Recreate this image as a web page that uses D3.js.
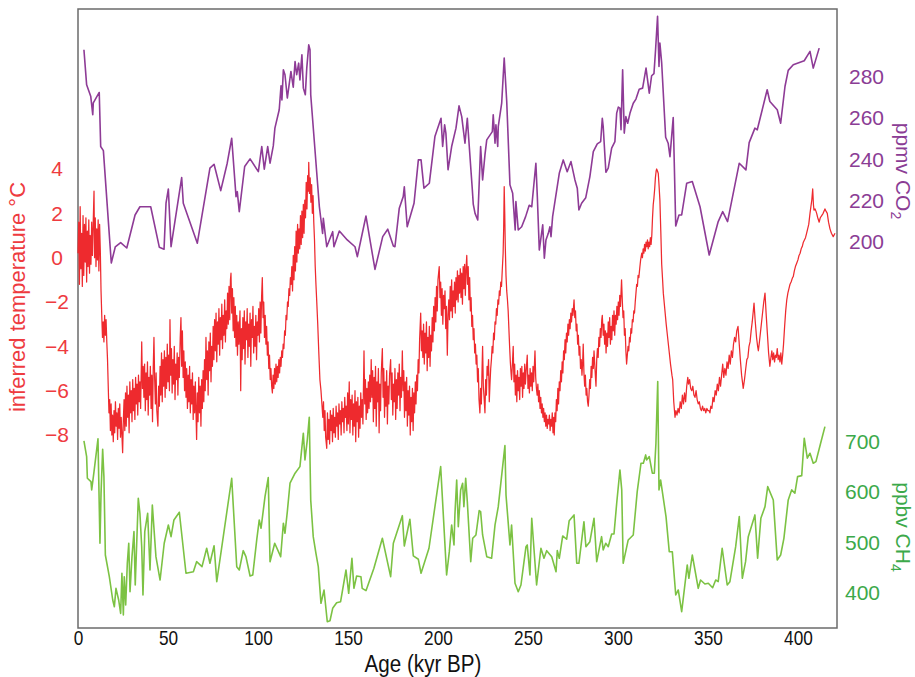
<!DOCTYPE html>
<html>
<head>
<meta charset="utf-8">
<script src="https://cdn.jsdelivr.net/npm/d3@7"></script>
<style>
body { margin: 0; background: #fff; }
svg { display: block; font-family: "Liberation Sans", Arial, sans-serif; }
</style>
</head>
<body>
<svg width="915" height="677"></svg>
<script>
// tick labels
var ageTicks = [0, 50, 100, 150, 200, 250, 300, 350, 400];
var tempTicks = [-8, -6, -4, -2, 0, 2, 4];
var co2Ticks = [200, 220, 240, 260, 280];
var ch4Ticks = [400, 500, 600, 700];

// [age kyr BP, inferred temperature °C]
var temperature = [
[0,0.2],[0.4,1.6],[0.8,-1.2],[1.2,2.3],[1.6,-0.5],[2,1.1],[2.4,-1.3],[2.8,1.9],[3.2,-0.8],[3.6,1.5],[4,-0.2],[4.4,1.8],[4.8,-1.1],[5.2,1.2],[5.6,-0.4],[6,1.7],[6.4,-0.7],[6.8,1],[7.2,-0.3],[7.6,1.6],[8,0.1],[8.4,1.4],[8.9,3],[9.2,0],[9.6,1.8],[10,-0.4],[10.4,1.3],[10.8,-0.1],[11.2,1.7],[11.6,-0.6],[12,1.5],[12.4,0.3],
[12.8,-1.5],[13.2,-2.6],[13.6,-3.6],[14,-2.9],[14.4,-3.8],[14.8,-2.6],[15.2,-3.5],[15.6,-2.8],[16,-3.8],[16.4,-4.6],[16.8,-5.8],[17.2,-7],[17.6,-6.4],[18,-7.8],
[18.4,-6.6],[18.8,-8],[19.2,-7.1],[19.6,-8.3],[20,-6.9],[20.4,-7.9],[20.8,-6.5],[21.2,-7.6],[21.6,-7],[22,-8.2],[22.4,-6.8],[22.8,-7.7],[23.2,-6.6],[23.6,-8.1],[24,-7.2],[24.4,-8],[24.8,-8.8],[25.2,-7.3],[25.6,-6.4],[26,-7.8],
[26.4,-6.1],[26.8,-7.6],[27.2,-5.8],[27.6,-7.2],[28,-6.2],[28.4,-7.9],[28.8,-5.6],[29.2,-7],[29.6,-6],[30,-7.4],[30.4,-5.5],[30.8,-6.9],[31.2,-5.9],[31.6,-7.3],[32,-5.4],[32.4,-6.6],[32.8,-5.7],[33.2,-7.1],[33.6,-5.3],[34,-6.5],
[34.4,-5.6],[34.8,-6.8],[35.4,-3.8],[35.8,-5.9],[36.2,-4.9],[36.6,-6.3],[37,-4.8],[37.4,-6.9],[37.8,-5.2],[38.2,-6.4],[38.6,-4.7],[39,-7.1],[39.4,-5.4],[39.8,-6.2],[40.2,-4.9],[40.6,-6.8],[41,-5.3],[41.4,-7.4],[41.8,-5],[42.2,-3.6],[42.6,-5.5],[43,-6.6],
[43.4,-5.2],[43.8,-6.9],[44.4,-7.6],[44.8,-5.8],[45.2,-6.7],[45.6,-4.9],[46,-6.2],[46.4,-4.3],[46.8,-6.5],[47.2,-4.6],[47.6,-5.8],[48,-4.2],[48.4,-6.3],[48.8,-4.5],[49.2,-5.9],[49.6,-3.9],[50,-5.6],[50.4,-4.4],[50.8,-6],[51.1,-2.8],[51.5,-5.3],[51.9,-4.1],[52.3,-6.1],[52.7,-4.6],[53.1,-5.7],[53.5,-4],[53.9,-6.4],[54.3,-4.8],[54.7,-5.5],[55.1,-4.3],[55.5,-6.2],[55.9,-4.5],[56.3,-5.4],[56.8,-3.6],[57.2,-2.7],[57.6,-4.9],[58,-3.3],[58.4,-5.4],[58.8,-4.2],[59.2,-6],
[59.6,-4.7],[60,-6.3],[60.4,-5],[60.8,-6.8],[61.2,-5.3],[61.6,-6.5],[62,-4.9],[62.4,-7],[62.8,-5.5],[63.2,-6.6],[63.6,-5.2],[64,-7.3],[64.4,-5.8],[64.8,-7],[65.2,-5.6],[65.9,-8.2],[66.3,-6.1],[66.7,-7.4],[67.1,-5.4],[67.5,-7],[67.9,-5.8],[68.3,-7.6],[68.7,-5.5],[69.1,-6.8],[69.5,-5.1],[69.9,-6.5],
[70.3,-4.6],[70.7,-6],[71.1,-3.6],[71.5,-5.5],[71.9,-4.2],[72.3,-6.2],[72.7,-3.8],[73.1,-5.1],[73.5,-3.4],[73.9,-5.6],[74.3,-4],[74.7,-4.9],
[75.1,-3.1],[75.5,-4.6],[75.9,-2.8],[76.3,-4.2],[76.7,-2.5],[77.1,-4.7],[77.5,-2.9],[77.9,-3.9],[78.3,-2.3],[78.7,-4.4],[79.1,-2.7],[79.5,-3.7],[79.9,-2.1],[80.3,-4.1],[80.7,-2.6],[81.1,-3.5],[81.5,-1.9],[81.9,-3.8],[82.3,-2.4],[82.7,-3.2],[83.1,-1.6],[83.5,-3],[83.9,-1.3],[84.3,-2.8],[84.7,-1],[85,-0.7],[85.4,-2.5],[85.8,-1.4],[86.2,-3.3],[86.6,-1.8],[87,-3.6],[87.4,-2.2],[87.8,-4],
[88.2,-2.6],[88.6,-4.4],[89,-2.9],[89.4,-3.9],[90,-2.4],[90.4,-6],[90.8,-3.2],[91.2,-4.6],[91.6,-2.7],[92,-4.1],[92.4,-2.4],[92.8,-4.8],[93.2,-2.9],[93.6,-3.7],[94,-2.3],[94.4,-4.5],[94.8,-3],[95.2,-4],[95.6,-2.5],[96,-4.9],[96.4,-2.8],[96.8,-3.6],[97.2,-2.2],[97.6,-4.3],[98,-3.1],[98.4,-4],[98.8,-2.6],[99.2,-4.6],[99.6,-2.9],[100,-3.5],
[100.4,-2.3],[100.8,-3.8],[101.2,-2],[101.6,-3.4],[102,-1.8],[102.4,-0.9],[102.8,-2.7],[103.2,-2],[103.6,-3.6],[104,-2.6],[104.4,-3.9],[104.8,-3.1],[105.2,-4.4],[105.6,-3.8],[106,-5],[106.4,-4.4],[106.8,-5.5],[107.2,-5],[107.6,-5.8],[108,-6.1],
[108.4,-5.3],[108.8,-5.9],[109.2,-5],[109.6,-5.7],[110,-4.8],[110.4,-5.6],[110.8,-4.9],[111.2,-5.4],[111.6,-4.6],[112,-5.2],[112.4,-4.5],[112.8,-4.9],[113.2,-4.2],
[113.6,-4.5],[114,-3.9],[114.4,-4.1],[114.8,-3.3],[115.2,-3.5],[115.6,-2.6],[116,-2.8],[116.4,-2],[116.8,-2.2],[117.2,-1.4],[117.6,-1.7],[118,-0.9],[118.4,-1.2],
[118.8,-0.4],[119.2,-1.5],[119.6,0.1],[120,-1],[120.4,0.5],[120.8,-0.6],[121.2,1.2],[121.6,-0.2],[122,1.5],[122.4,0.2],[122.8,1.3],[123.2,0.4],[123.6,1.9],[124,0.6],[124.4,2.1],[124.8,0.9],[125.2,2.4],[125.6,1.1],[126,2.6],[126.4,1.8],[126.8,3.4],[127.2,2.2],[127.6,3.7],[128,3],[128.2,4.3],[128.6,2.9],[129,3.6],[129.4,2.5],[129.8,3.3],[130.2,2],[130.6,2.8],[131,1.6],[131.4,0.8],[131.8,-0.4],[132.2,-1.2],[132.6,-1.9],
[133.2,-3],[133.8,-4.3],[134.4,-5.5],[135,-6],[135.6,-6.7],
[136,-7.2],[136.4,-6.5],[136.8,-7.8],[137.2,-6.9],[137.6,-8.1],[138.2,-8.6],[138.6,-7],[139,-8.2],[139.4,-7.3],[139.8,-8.4],[140.2,-6.9],[140.6,-7.8],[141,-7.1],[141.4,-8.3],[141.8,-6.8],[142.2,-7.9],[142.6,-7.2],[143,-8.1],[143.4,-6.7],[143.8,-7.6],[144.2,-7],[144.6,-8.2],[145,-6.6],[145.4,-7.5],[145.8,-6.9],[146.2,-8],[146.6,-6.5],[147,-7.4],[147.4,-6.8],[147.8,-7.9],[148.2,-6.3],[148.6,-7.2],[149,-6.7],
[149.4,-7.8],[149.8,-6.1],[150.2,-7.5],[150.7,-5.6],[151.1,-7.9],[151.5,-6.4],[151.9,-7.3],[152.3,-6.2],[152.7,-8],[153.1,-6.6],[153.5,-7.6],[153.9,-6],[154.3,-8.3],[154.7,-6.5],[155.1,-7.4],[155.5,-6.3],[155.9,-8.1],[156.3,-6.7],[156.7,-7.7],[157.1,-6.1],[157.5,-7.2],
[157.9,-6.4],[158.3,-7.5],[158.9,-4.2],[159.3,-6.6],[159.7,-5.5],[160.1,-7.3],[160.5,-5.9],[160.9,-7],[161.3,-5.6],[161.7,-6.8],[162.1,-5.3],[162.5,-6.5],[162.9,-4.6],[163.3,-6.3],
[163.7,-5.1],[164.1,-7.4],[164.5,-5.4],[164.9,-6.8],[165.3,-4.9],[165.7,-7.6],[166.1,-5.6],[166.5,-6.5],[166.9,-5],[167.3,-7.9],[167.7,-5.7],[168.1,-6.9],[168.5,-5.2],[169.1,-4.1],[169.5,-6.3],[169.9,-5],[170.3,-7.2],[170.7,-5.6],[171.1,-6.7],[171.5,-5.1],[171.9,-7.5],[172.3,-5.8],[172.7,-6.6],[173.1,-5.3],[173.7,-4.6],[174.1,-6.4],[174.5,-5.2],[174.9,-7.1],[175.3,-5.7],[175.7,-6.5],[176.1,-5],[176.5,-7.3],[176.9,-5.5],[177.3,-6.8],[177.7,-5.2],[178.1,-6.2],[178.5,-4.8],[178.9,-6.9],[179.3,-5.4],[179.7,-6.3],[180.2,-4.2],
[180.6,-6],[181,-5.1],[181.4,-7.2],[181.8,-5.6],[182.2,-6.9],[182.6,-5.4],[183,-7.6],[183.4,-6],[183.8,-7.1],[184.2,-5.8],[184.6,-8],[185,-6.3],[185.4,-7.4],[185.8,-5.9],[186.2,-7.8],[186.6,-6.1],[187,-7],[187.4,-5.6],[187.8,-6.6],
[188.2,-5.3],[188.6,-6],[189,-4.6],[189.4,-5.2],[189.8,-3.7],[190.4,-2.5],[190.8,-4.2],[191.2,-3.3],[191.6,-4.5],
[192,-3],[192.4,-4.8],[192.8,-3.4],[193.2,-4.3],[193.6,-2.9],[194,-5.1],[194.4,-3.6],[194.8,-4.5],[195.2,-3.1],[195.6,-4.9],[196,-3.5],[196.4,-4.2],[196.8,-2.7],[197.2,-3.8],[197.6,-2.2],[198,-3.3],[198.4,-1.8],[198.8,-2.9],[199.2,-1.3],[199.6,-2.4],[200,-1],[200.7,-0.4],[201.1,-1.8],[201.5,-1.1],[201.9,-2.6],[202.3,-1.4],[202.7,-3],[203.1,-1.7],[203.5,-2.3],[203.9,-1.5],[204.3,-3.2],[204.7,-2.2],[205.2,-4.4],[205.6,-2.6],[206,-1.9],
[206.4,-2.8],[206.8,-1.3],[207.2,-2.4],[207.6,-1],[208,-2.7],[208.4,-1.5],[208.8,-2.2],[209.2,-1.1],[209.6,-2.5],[210,-0.9],[210.4,-1.9],[210.8,-0.6],[211.2,-2],[211.6,-0.8],[212,-1.6],[212.4,-0.5],[212.8,-1.8],[213.2,-0.7],[213.6,-2.1],[214,-0.4],[214.4,-1.4],[214.8,-0.3],[215.2,-1.7],[215.6,-0.5],[216,0.1],[216.4,-1.2],[216.8,-0.4],[217.2,-1.9],[217.6,-0.9],
[218,-2.4],[218.4,-1.8],[218.8,-3.1],[219.2,-2.6],[219.6,-3.7],[220,-3.2],[220.4,-4.3],[220.8,-3.9],[221.2,-4.8],
[221.6,-4.4],[222,-5.6],[222.4,-5],[222.8,-6.4],[223.3,-7],[223.7,-5.9],[224.1,-6.6],[224.5,-5],[224.8,-4],[225.2,-5.8],[225.6,-6.3],[226.1,-7],[226.5,-5.5],[226.9,-6.2],[227.3,-4.9],[227.7,-5.3],[228.1,-4.6],[228.5,-6.5],[228.9,-5.7],
[229.3,-5],[229.7,-4.6],[230.1,-4],[230.5,-4.3],[230.9,-3.4],[231.3,-3.7],[231.7,-2.9],[232.1,-3],[232.5,-2.3],[232.9,-2.6],[233.3,-1.9],[233.7,-2.1],[234.1,-1.5],[234.5,-1.7],[234.9,-1.1],[235.3,-1.3],
[235.7,-0.6],[236.2,0.2],[236.5,1.3],[236.8,3.2],[237.1,2],[237.4,0.5],[237.8,-0.8],[238.2,-1.5],[238.6,-1.9],
[239,-2.4],[239.4,-3.2],[239.8,-4],[240.2,-4.7],[240.6,-5.2],[240.9,-5.5],
[241.3,-4.9],[241.8,-4],[242.2,-5.6],[242.6,-4.8],[243,-6.2],[243.4,-5.3],[243.8,-6.5],[244.2,-5.1],[244.6,-6],[245,-5.4],[245.4,-6.4],[245.8,-5],[246.2,-5.8],[246.6,-4.9],[247,-6.3],[247.4,-5.2],[247.8,-5.9],[248.2,-4.8],[248.6,-5.7],[249,-5.1],[249.6,-4.4],[250,-5.9],[250.4,-5.3],[250.8,-6.1],[251.2,-5],[251.6,-5.8],[252,-5.2],[252.4,-6],[252.8,-4.9],[253.2,-5.6],[253.9,-4.2],[254.3,-5.4],[254.7,-5.9],
[255.1,-6.2],[255.5,-5.7],[255.9,-6.5],[256.3,-6],[256.7,-6.8],[257.1,-6.3],[257.5,-7],[257.9,-6.6],[258.3,-7.2],[258.7,-6.8],[259.1,-7.4],[259.5,-7],[259.9,-7.6],[260.3,-7.1],[260.7,-7.7],[261.1,-7.3],[261.5,-7.5],[261.9,-7.1],[262.3,-7.8],[262.7,-7.3],[263.1,-7.6],[263.5,-7],[263.9,-7.9],[264.3,-7.2],[264.6,-8],[265,-7],
[265.4,-7.4],[265.8,-6.4],[266.2,-6.9],[266.6,-5.9],[267,-6.6],[267.4,-5.6],[267.8,-6],[268.2,-5.1],[268.6,-5.6],[269,-4.7],[269.4,-5.2],[269.8,-4.2],[270.2,-4.6],[270.6,-3.7],[271,-4.3],[271.4,-3.4],[271.8,-3.8],[272.2,-3],[272.6,-3.5],[273,-2.8],[273.4,-3.2],[273.8,-2.5],[274.2,-2.9],[274.6,-2.3],[275,-2.6],[275.6,-1.9],
[276,-2.7],[276.4,-2.4],[276.8,-3.3],[277.2,-3],[277.6,-3.9],[278,-3.5],[278.4,-4.4],[278.8,-4],[279.2,-5],[279.6,-4.6],[280,-5.3],[280.4,-4.7],[280.7,-3.9],[281.1,-5.2],[281.5,-5.8],[281.9,-5.3],[282.3,-6.2],[282.7,-5.9],[283.1,-6.5],[283.5,-6.7],
[283.9,-6.2],[284.3,-5.5],[284.7,-5.9],[285.1,-4.9],[285.5,-5.4],[285.9,-4.5],[286.3,-5],[286.7,-4.2],[287.1,-4.8],[287.5,-5.4],[287.8,-5.8],[288.2,-4.6],[288.6,-4.1],[289,-4.5],[289.4,-3.6],[289.8,-4],[290.2,-3.2],[290.6,-3.6],[291,-2.8],[291.3,-2.6],
[291.8,-3.5],[292.2,-3],[292.6,-3.9],[293,-3.3],[293.4,-4.3],[293.8,-3.4],[294.2,-4],[294.6,-2.9],[295,-3.6],[295.4,-2.7],[295.8,-3.9],[296.2,-3.1],[296.6,-3.7],[297,-2.6],[297.4,-3.3],[297.8,-2.4],[298.2,-3.5],[298.6,-2.6],[299,-3],[299.4,-2.2],[299.8,-2.8],[300.2,-2],[300.6,-2.6],[301,-1.7],[301.4,-2.2],[302,-1],[302.4,-1.9],[302.8,-2.7],[303.2,-2.4],[303.6,-3.5],[304,-3.2],[304.4,-4.2],[304.8,-4.8],
[305.2,-4.4],[305.6,-4],[306,-4.2],[306.4,-3.6],[306.8,-3.8],[307.2,-3.2],[307.6,-3.4],[308,-2.8],[308.4,-2.9],[308.8,-2.4],[309.2,-2.5],[309.6,-2],[310,-1.6],[310.4,-1.2],[310.8,-1.3],[311.2,-0.8],[311.6,-0.9],[312.2,-0.4],[312.6,-0.1],[313.2,0.2],[313.6,0],[314,0.4],[314.4,0.2],[314.8,0.6],[315.2,0.3],[315.6,0.7],[316,0.5],[316.4,0.8],[316.8,0.4],[317.2,0.7],[317.6,0.5],[318,0.9],[318.4,0.6],[318.8,1],[319.2,1.8],[319.6,2.4],[320,2.7],[320.4,3.1],[320.8,3.6],[321.2,3.9],[321.5,4],[322,3.9],[322.4,3.8],[322.8,3.3],[323.3,2.6],[323.8,1.2],[324.3,-0.3],[324.8,-1],[325.2,-1.6],
[326,-2.3],[326.8,-3],[327.6,-3.6],[328.4,-4.2],[329.2,-4.8],[330,-5.3],[330.4,-5.5],[331,-6.5],[331.7,-7.2],
[332.2,-6.9],[332.8,-7.1],[333.4,-6.8],[334,-7],[334.6,-6.5],[335.2,-6.8],[335.8,-6.2],[336.4,-6.6],[337,-6.1],[337.6,-6.5],[338.2,-5.8],[338.8,-5.4],[339.2,-5.7],[339.8,-5.5],[340.4,-5.9],[341,-6],
[341.6,-5.8],[342.2,-6.2],[342.8,-6.3],[343.4,-6],[344,-6.4],[344.6,-6.6],[345.2,-6.5],[345.8,-6.8],[346.4,-6.9],[347,-6.7],[347.6,-6.9],[348.2,-6.8],[348.8,-7],[349.4,-6.8],[350,-6.9],[350.6,-6.9],[351.1,-7],[351.6,-6.7],[352.2,-6.8],
[352.8,-6.3],[353.4,-6.5],[354,-6],[354.6,-6.2],[355.2,-5.7],[355.8,-6],[356.4,-5.4],[357,-5.8],[357.6,-5.3],[358.2,-4.8],[358.8,-5.4],[359.4,-5],[360,-5.3],[360.6,-4.7],[361.2,-5],[361.8,-4.4],[362.4,-4.8],[363,-4.2],[363.6,-4.5],[364.2,-3.9],[364.8,-3.6],[365.4,-3.8],[366,-3.3],[366.7,-3.1],
[367.3,-3.8],[368,-4.6],[368.7,-5.3],[369.6,-5.9],[370.3,-5.5],[371,-5],[371.6,-4.6],[372.2,-4.5],[372.8,-4],[373.4,-3.8],[374,-3.3],[374.6,-2.9],[375.2,-2.4],[375.6,-2.05],
[376.2,-2.8],[377,-3.6],[377.6,-4],[378,-4.2],[378.6,-3.8],[379.4,-3.2],[380.2,-2.6],[381,-2],[381.7,-1.6],[382.3,-2.5],[383,-3.4],[383.7,-4.3],[384.4,-4.9],
[385,-4.5],[385.5,-4.2],[386,-4.6],[386.5,-4.3],[387,-4.7],[387.5,-4.4],[388,-4.5],[388.5,-4.1],[389,-4.6],[389.5,-4.4],[390,-4.7],[390.5,-4.3],[391,-4.8],[391.5,-4.4],
[392,-3.9],[392.6,-3.1],[393.2,-2.4],[393.8,-1.9],[394.4,-1.6],[395,-1.4],[395.6,-1.2],[396.2,-1.1],[397,-0.9],[397.4,-0.86],[398,-0.6],[398.6,-0.4],[399.3,-0.25],[400,-0.1],[400.6,0.1],[401.2,0.2],[401.8,0.4],[402.4,0.5],[403,0.7],[403.6,0.8],[404.2,0.9],[404.8,1.1],[405.4,1.3],[406,1.5],[406.7,2],[407.2,2.3],[407.7,2.6],[408.2,3.1],[408.6,2.4],[408.9,2.15],[409.5,2.2],[410,2.1],[410.4,2],[411,1.8],[411.8,1.6],[412.4,1.8],[413.2,1.9],[414,2],[415,2.2],[415.6,2.1],[416.3,2],[417,1.6],[417.8,1.3],[418.6,1.1],[419.6,0.95],[420.6,1.1]
];

// [age kyr BP, CO2 ppmv]
var co2 = [
[3.3,293.2],[4.8,276.2],[7.1,270.5],[8.2,261.7],[8.5,267.5],[11.8,272.5],[12.6,246.3],[14.1,244.3],[18.5,189.8],[20.7,197.6],[23.7,199.7],[27.1,197.1],[31.7,213.1],[34.4,217.1],[40.4,217.1],[45.2,197.4],[47.8,196.5],[48.9,218.8],[50.2,225.7],[51.7,197.7],[57.6,231.2],[58.5,218.8],[66.3,199.4],[73.3,235.8],[75.6,237.7],[79.3,224.9],[82.9,238.2],[85.4,250.3],[87.8,222],[88.5,224.4],[89.6,214.7],[92.6,236.6],[95.6,240.3],[100.2,234.1],[102.1,246.3],[103.5,235.3],[105.4,246.3],[106.7,238.2],[108.5,246.6],[109.4,255.2],[111.8,264.1],[112.8,275.7],[113.3,268.9],[114.1,283.5],[115,281.1],[116.3,269.8],[118.3,282.7],[119.6,275.1],[120.6,287.5],[121.5,281.1],[122.6,286.7],[123.3,278.6],[124.4,290.8],[125.2,274.6],[126.3,271.4],[127.1,284.3],[128.2,295.6],[128.9,293.2],[129.3,271.4],
[134.1,217.1],[135.9,204.2],[136.3,211.5],[138.2,197.7],[141.5,205],[142.2,197.7],[145.2,205.3],[149.6,201],[153.9,197.7],[155.2,192.9],[160,212.6],[165,186.7],[169.3,202.6],[172.1,206.2],[175.2,198.1],[176.1,197.7],[178.5,216.4],[180.7,222],[181.3,226.8],[182.9,207.4],[186.7,218.8],[189.1,239.8],[190.6,239.8],[192.2,226.1],[195.2,228.5],[198.3,251.1],[201.7,260],[202.6,246.3],[203.7,256.8],[204.4,252.8],[205.6,235],[207.6,246.3],[210,255.2],[211.7,266],[213.2,260.8],[215,247.9],[216.3,260],[218.3,235],[219.1,225.2],[219.6,218.4],[220.6,213.9],[222.1,210.7],[223.7,246.3],[224.8,230.1],[226.1,242.2],[227.1,249.5],[230.2,253.5],[230.7,261.7],[231.7,247.9],[232.2,256.8],[233.2,246.3],[233.5,256],[235.4,267.3],[236.8,289.2],[238.2,268.1],
[240,227.7],[241.5,223.6],[242.9,205.8],[243.3,219.6],[244.6,205.8],[246.5,207.4],[248.7,212.3],[250.7,217.8],[252.1,217.1],[254.4,238.2],[255.2,222],[256.3,196.1],[258.2,208.3],[259.1,192.1],[260,201],[261.3,204.2],[262.2,207.4],[262.8,202.6],[263.7,212.3],[267.4,233.3],[269.6,239.8],[271.8,234.1],[273.9,239],[276.1,230.1],[277.4,226.1],[278.3,215.5],[279.8,218.8],[282.1,221.5],[284.4,231.7],[286.3,243.8],[288.5,247.6],[290.4,248.7],[291.3,260],[291.8,256],[293.3,233.8],[294.6,235.8],[296.5,245.5],[298.3,248.7],[299.3,262.5],[300.2,265.4],[301.1,264.9],[301.7,254.4],[302.6,283.5],[303.5,252.8],[304.4,260.8],[305.4,257.6],[306.7,262.5],[308.5,267.3],[310,269.3],[311.8,274.1],[313.7,274.6],[315.6,284.3],[317.4,272.2],[318.7,280.6],[320,281.6],[320.9,293.2],[322,309.4],[322.8,285.1],[323.3,296.5],[324.3,286.7],
[326.5,250.8],[327.9,247.9],[328.9,241.4],[330.7,260.3],[332.1,207.8],[333.9,213.1],[335.4,213.1],[338.2,228.5],[341.3,229.3],[345.6,217.1],[350.7,193.7],[355.7,209.9],[358.2,214.7],[360.9,209.9],[367.4,238.2],[371.1,235],[372.9,248.2],[376.1,255.2],[377.4,254.4],[382.9,273.8],[384.4,268.1],[388.5,264.1],[390.4,257.6],[392.8,275.4],[394.6,283.2],[397.4,285.9],[403.5,287.9],[406.7,292.4],[408.5,284.3],[411.8,294]
];

// [age kyr BP, CH4 ppbv]
var ch4 = [
[3.3,701.6],[4.8,670.4],[5.2,627.4],[7.2,620.7],[7.6,604.2],[8.9,640.5],[11.1,705.6],[12.2,498.2],[12.8,597.6],[13.7,685.1],[14.4,630.6],[15.2,474.9],[17.4,431.8],[19.3,385.5],[20.2,372.2],[21.1,408.7],[22.6,385.5],[23.7,359],[24.4,438.6],[25.2,355.7],[25.7,431.8],[26.5,375.5],[27.4,458.4],[28.2,498.2],[28.9,402],[30,471.6],[31.1,521.3],[31.8,415.3],[33.5,587.7],[34.4,557.8],[35.4,491.4],[36.1,395.4],[37.1,521.3],[38.7,557.8],[40,445.1],[41.3,574.3],[43.3,471.6],[45.6,425.2],[47.9,498.2],[50.2,534.6],[51.7,511.3],[53.3,544.5],[56.3,559.8],[60,438.6],[64.1,441.7],[65.9,461.6],[68.9,451.7],[71.5,488.3],[73.3,458.4],[75.6,493.4],[77.1,421.9],[85.4,627.4],[88.2,451.7],[89.6,445.1],[91.8,483.5],[93.3,471.6],[95.6,433.2],[97.1,435.2],[99.3,504.8],[100.7,544.5],[101.7,528],[103.9,590.8],[105.7,628.6],[106.7,461.6],[109.3,498.2],[112.6,471.6],[114.1,538],[115,518.1],[116.3,561],[117.8,617.5],[120.6,637.4],[123.3,650.5],[125.2,716.9],[126.1,663.8],[127.4,703.6],[128.5,748.7],[129.3,584.3],[130.7,511.3],[132.2,478.3],[133.5,451.7],[135,378.9],[136.7,405.4],[138.5,342.3],[140,344.3],[141.5,369],[143.7,380.1],[145.9,382.1],[148.9,445.1],[150.4,398.8],[152.2,468.4],[153.3,408.7],[154.8,433.2],[157.2,431.8],[157.9,408.7],[160,404],[164.4,448.5],[169.1,508.1],[173.7,431.8],[175.2,498.2],[180.2,553.1],[181.3,492.8],[184.4,545.9],[186.3,473],[189.1,466.4],[190.6,438.6],[195,488.3],[201.5,650.5],[204.8,435.2],[206.3,481.5],[207.6,534.6],[208.9,494.8],[209.4,554.5],[210.4,624],[211.3,531.2],[212.6,604.2],[213.7,617.5],[214.4,571],[215.4,627.4],[216.3,580.9],[218.2,461.6],[219.3,508.1],[221.1,514.7],[222.9,563],[223.7,561],[224.8,514.7],[227.1,471.6],[229.8,468.4],[231.7,534.6],[233.5,571],[237.2,692.2],[237.8,594.2],[240,494.8],[240.9,534.6],[242.8,418.7],[244.6,402],[246.1,415.3],[248.9,491.4],[249.6,494.8],[251.1,435.2],[252.1,547.9],[254.8,415.3],[257.2,488.3],[258.9,468.4],[260.4,483.5],[263.2,471.6],[265.6,441.7],[266.3,483.5],[267.4,468.4],[269.3,512.7],[271.5,506.2],[272.9,543.1],[275.6,554.5],[277.1,458.4],[278.3,458.4],[281.1,541.1],[282.2,491.4],[284.4,501.4],[286.7,547.9],[288.2,461.6],[290.9,511.3],[291.8,484.9],[293.2,498.2],[294.6,491.4],[296.5,516.7],[297.8,516.7],[299.3,577.7],[301.1,643.9],[302.1,604.2],[302.9,458.4],[305.7,504.8],[308.5,514.7],[310.7,600.8],[312.8,657.2],[314.1,657.2],[315.4,673.7],[315.9,663.8],[317.4,670.4],[319.1,637.4],[320.2,637.4],[321.1,697],[322.1,819.5],[322.8,604.2],[323.7,624],[326.7,551.1],[328.5,481.5],[330.2,481.5],[332.1,395.4],[333.5,405.4],[335.4,362.2],[338.5,455.1],[339.4,428.6],[341.3,474.9],[344.6,408.7],[345.9,425.2],[348.3,417.3],[350.2,418.7],[352.6,409.9],[354.3,425.2],[355.7,421.9],[357.9,488.3],[360.7,415.3],[362.2,421.9],[365.4,491.4],[367.4,551.1],[369.1,428.6],[370.9,461.6],[372.4,511.3],[376.1,554.5],[377.6,468.4],[379.4,547.9],[381.7,571],[383.2,610.7],[386.3,584.3],[388.5,465],[390.4,474.9],[392.2,508.1],[394.6,584.3],[396.5,604.2],[398.3,597.6],[399.8,630.6],[402.1,632.6],[403.5,706.9],[405.2,667.2],[406.7,677.1],[408.5,657.2],[410,660.4],[412.6,697],[415,730]
];

var width = 915;
var height = 677;
var margin = {top: 9, bottom: 49, left: 78, right: 78};

var red = '#ee2a2e', purple = '#8e3b96', green = '#7cc243';

var svg = d3.select('svg');

//scales
var xScale = d3.scaleLinear()
    .domain([0, 421.7])
    .range([margin.left, width - margin.right]);
var tempScale = d3.scaleLinear()
    .domain([-8, 4])
    .range([435, 169]);
var co2Scale = d3.scaleLinear()
    .domain([200, 280])
    .range([242, 77]);
var ch4Scale = d3.scaleLinear()
    .domain([400, 700])
    .range([592.7, 441.7]);

// frame
svg.append('rect')
    .attr('x', margin.left)
    .attr('y', margin.top)
    .attr('width', width - margin.left - margin.right)
    .attr('height', height - margin.top - margin.bottom)
    .attr('fill', 'none')
    .attr('stroke', '#6b6b6b')
    .attr('stroke-width', 1.5);

// lines
function drawLine(data, yScale, color, w) {
    var line = d3.line()
        .x(d => xScale(d[0]))
        .y(d => yScale(d[1]));
    svg.append('path')
        .datum(data)
        .attr('d', line)
        .attr('fill', 'none')
        .attr('stroke', color)
        .attr('stroke-width', w)
        .attr('stroke-linejoin', 'round');
}
drawLine(co2, co2Scale, purple, 1.6);
drawLine(ch4, ch4Scale, green, 1.6);
drawLine(temperature, tempScale, red, 1.25);

// axes
function styleAxis(g, color, size) {
    g.select('.domain').remove();
    g.selectAll('text')
        .attr('fill', color)
        .style('font-size', size + 'px');
}

// x labels are drawn narrow, like the condensed face of the original
var xAxis = d3.axisBottom(xScale)
    .tickValues(ageTicks)
    .tickSize(0)
    .tickPadding(2);
svg.append('g')
    .attr('transform', 'translate(' + [0, height - margin.bottom] + ')')
    .call(xAxis)
    .call(g => styleAxis(g, '#111', 21))
    .selectAll('text')
    .attr('transform', 'scale(0.82,1)');

svg.append('g')
    .attr('transform', 'translate(' + [margin.left, 0] + ')')
    .call(d3.axisLeft(tempScale).tickValues(tempTicks).tickSize(0))
    .call(g => styleAxis(g, '#ee3b3f', 21))
    .selectAll('text')
    .attr('text-anchor', 'middle')
    .attr('x', -21);

svg.append('g')
    .attr('transform', 'translate(' + [width - margin.right, 0] + ')')
    .call(d3.axisRight(co2Scale).tickValues(co2Ticks).tickSize(0).tickPadding(12))
    .call(g => styleAxis(g, '#8b3d95', 21));

svg.append('g')
    .attr('transform', 'translate(' + [width - margin.right, 0] + ')')
    .call(d3.axisRight(ch4Scale).tickValues(ch4Ticks).tickSize(0).tickPadding(8))
    .call(g => styleAxis(g, '#3ca94a', 21));

// axis titles
svg.append('text')
    .attr('transform', 'translate(423,672) scale(0.86,1)')
    .attr('text-anchor', 'middle')
    .style('font-size', '24px')
    .attr('fill', '#111')
    .text('Age (kyr BP)');

svg.append('text')
    .attr('transform', 'translate(25,297) rotate(-90)')
    .attr('text-anchor', 'middle')
    .style('font-size', '22px')
    .attr('fill', '#ee3b3f')
    .text('inferred temperature °C');

function gasTitle(y, main, sub, color) {
    var t = svg.append('text')
        .attr('transform', 'translate(896,' + y + ') rotate(90)')
        .attr('text-anchor', 'middle')
        .style('font-size', '21px')
        .attr('fill', color);
    t.append('tspan').text(main);
    t.append('tspan').attr('dy', 5).style('font-size', '14px').text(sub);
}
gasTitle(171, 'ppmv CO', '2', '#8b3d95');
gasTitle(527, 'ppbv CH', '4', '#3ca94a');
</script>
</body>
</html>
